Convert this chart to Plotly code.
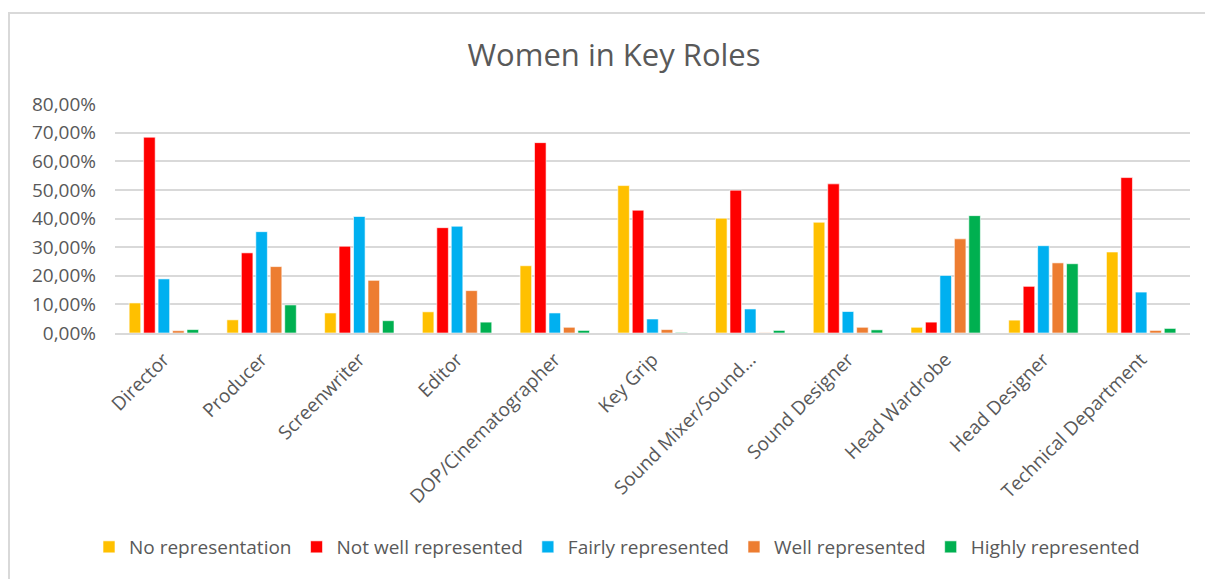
import plotly.graph_objects as go

categories = ["Director", "Producer", "Screenwriter", "Editor", "DOP/Cinematographer",
              "Key Grip", "Sound Mixer/Sound…", "Sound Designer", "Head Wardrobe",
              "Head Designer", "Technical Department"]

no_representation = [0.105, 0.046, 0.070, 0.074, 0.235, 0.515, 0.401, 0.387, 0.020, 0.045, 0.283]
not_well_represented = [0.684, 0.280, 0.303, 0.368, 0.665, 0.429, 0.499, 0.521, 0.038, 0.163, 0.543]
fairly_represented = [0.189, 0.354, 0.407, 0.373, 0.070, 0.049, 0.084, 0.075, 0.201, 0.305, 0.143]
well_represented = [0.008, 0.232, 0.184, 0.148, 0.020, 0.012, 0.001, 0.020, 0.329, 0.245, 0.009]
highly_represented = [0.012, 0.098, 0.043, 0.038, 0.009, 0.002, 0.009, 0.011, 0.410, 0.242, 0.016]

series_names = ["No representation", "Not well represented", "Fairly represented",
                "Well represented", "Highly represented"]
series_values = [no_representation, not_well_represented, fairly_represented,
                 well_represented, highly_represented]
colors = ["#FFC000", "#FF0000", "#00B0F0", "#ED7D31", "#00B050"]

y_ticks = [0, 0.1, 0.2, 0.3, 0.4, 0.5, 0.6, 0.7, 0.8]

fig = go.Figure()
for name, vals, col in zip(series_names, series_values, colors):
    fig.add_trace(go.Bar(
        x=categories, y=vals, name=name,
        marker=dict(color=col, line=dict(color="rgba(255,255,255,0.6)", width=1)),
    ))

# page body has an 8px margin: work in reference pixels and shift by OFF
OFF = 8
W, H = 1213 - OFF, 579 - OFF
L = 115 - OFF
T = 104 - OFF
R = W - (1190 - OFF)
B = H - (333 - OFF)
pw, ph = W - L - R, H - T - B

def px_x(x):
    return (x - OFF - L) / pw

def px_y(y):
    return (H - B - (y - OFF)) / ph

font_family = "Open Sans, Liberation Sans, sans-serif"
text_color = "#595959"

fig.update_layout(
    width=W, height=H,
    margin=dict(l=L, r=R, t=T, b=B),
    paper_bgcolor="white", plot_bgcolor="white",
    barmode="group", bargap=0.26, bargroupgap=0.2,
    separators=", ",
    font=dict(family=font_family, color=text_color, size=19),
    title=dict(text="Women in Key Roles", x=(614 - OFF) / W, xanchor="center",
               y=1 - (55 - OFF) / H, yanchor="middle", xref="container", yref="container",
               font=dict(size=31, color=text_color, family=font_family)),
    legend=dict(orientation="h", x=px_x(617), xanchor="center", y=px_y(547), yanchor="middle",
                font=dict(size=19, color=text_color), itemwidth=30, tracegroupgap=0,
                bgcolor="rgba(0,0,0,0)"),
    xaxis=dict(tickangle=-45, showgrid=False, showline=True, linecolor="#d9d9d9", linewidth=2,
               ticks="", ticklabelstandoff=6, tickfont=dict(size=19, color=text_color)),
    yaxis=dict(range=[0, 0.8], tickvals=y_ticks, tickformat=".2%", showgrid=True,
               gridcolor="#d9d9d9", gridwidth=1.5, zeroline=False, showline=False,
               ticks="", ticklabelstandoff=18, tickfont=dict(size=19, color=text_color)),
    shapes=[dict(type="rect", xref="paper", yref="paper",
                 x0=px_x(9), x1=px_x(1240), y0=px_y(620), y1=px_y(13),
                 line=dict(color="#d9d9d9", width=2), fillcolor="rgba(0,0,0,0)", layer="below")],
)

fig.write_html("out.html")
